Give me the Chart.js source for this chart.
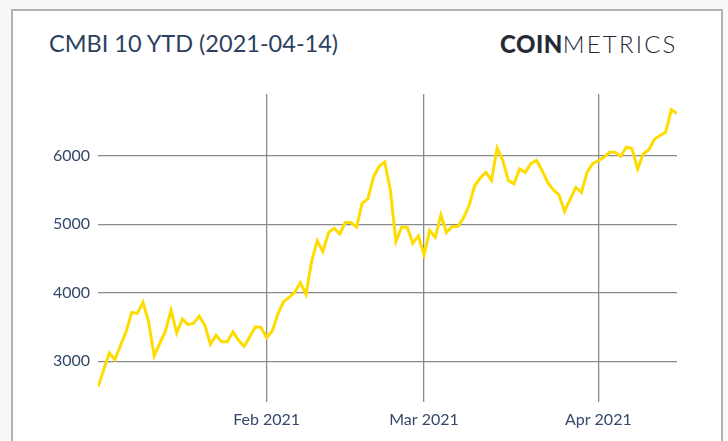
<!DOCTYPE html>
<html>
<head>
<meta charset="utf-8">
<script src="https://cdn.jsdelivr.net/npm/chart.js@4.4.1/dist/chart.umd.min.js"></script>
<style>
  html, body { margin: 0; padding: 0; background: #f8f8f8; }
  body { width: 728px; height: 441px; position: relative; overflow: hidden; font-family: Lato, sans-serif; }
  .card { position: absolute; left: 11px; top: 9px; width: 708px; height: 520px; background: #fff; border: 2px solid #b2b2b2; }
  .title { position: absolute; left: 49px; top: 29px; font-size: 23.5px; color: #2d3f5f; white-space: nowrap; }
  .logo { position: absolute; left: 500px; top: 29px; font-size: 24px; color: #262a38; white-space: nowrap; }
  .logo b { font-weight: 900; letter-spacing: 0.5px; }
  .logo span { font-weight: 300; letter-spacing: 2.2px; }
  #wrap { position: absolute; left: 0; top: 0; width: 728px; height: 441px; }
</style>
</head>
<body>
<div class="card"></div>
<div class="title">CMBI 10 YTD (2021-04-14)</div>
<div class="logo"><b>COIN</b><span>METRICS</span></div>
<div id="wrap"><canvas id="myChart"></canvas></div>
<script>
// daily index values, first point = 2021-01-02 (day 0)
const cmbiValues = [
  2624, 2870, 3121, 3025, 3230, 3429, 3713, 3698, 3859, 3575,
  3077, 3259, 3443, 3746, 3414, 3615, 3537, 3551, 3659, 3527,
  3249, 3380, 3283, 3283, 3429, 3307, 3220, 3356, 3502, 3493,
  3346, 3443, 3688, 3868, 3932, 4005, 4146, 3976, 4453, 4756,
  4600, 4878, 4942, 4859, 5024, 5024, 4957, 5308, 5366, 5688,
  5843, 5907, 5502, 4746, 4957, 4957, 4722, 4829, 4551, 4907,
  4810, 5137, 4878, 4966, 4966, 5088, 5268, 5561, 5674, 5756,
  5639, 6112, 5932, 5639, 5590, 5805, 5756, 5883, 5932, 5785,
  5610, 5502, 5429, 5185, 5366, 5537, 5463, 5756, 5883, 5927,
  5976, 6049, 6049, 5990, 6127, 6102, 5805, 6029, 6088, 6244,
  6293, 6346, 6673, 6615
];
const monthTicks = [30, 58, 89];
const monthLabels = ['Feb 2021', 'Mar 2021', 'Apr 2021'];
const yTicks = [3000, 4000, 5000, 6000];

const points = cmbiValues.map((v, i) => ({ x: i, y: v }));
const gridColor = '#8a8a8a';
const tickColor = '#34486a';

const ctx = document.getElementById('myChart');
new Chart(ctx, {
  type: 'line',
  data: {
    datasets: [{
      data: points,
      borderColor: '#ffdc00',
      borderWidth: 3,
      pointRadius: 0,
      tension: 0,
      fill: false
    }]
  },
  options: {
    responsive: true,
    maintainAspectRatio: false,
    animation: false,
    layout: { padding: { left: 18, right: 51, top: 94, bottom: 0 } },
    plugins: { legend: { display: false }, tooltip: { enabled: false } },
    scales: {
      x: {
        type: 'linear',
        min: 0,
        max: 103,
        afterBuildTicks: (scale) => { scale.ticks = monthTicks.map(v => ({ value: v })); },
        afterFit: (scale) => { scale.height = 54; },
        ticks: {
          callback: (v) => monthLabels[monthTicks.indexOf(v)],
          color: tickColor,
          font: { family: 'Lato', size: 16 },
          padding: 8,
          maxRotation: 0,
          autoSkip: false
        },
        grid: { color: gridColor, lineWidth: 1.3, tickLength: 15, drawTicks: true },
        border: { display: false }
      },
      y: {
        min: 2624,
        max: 6900,
        afterBuildTicks: (scale) => { scale.ticks = yTicks.map(v => ({ value: v })); },
        afterFit: (scale) => { scale.width = 80; },
        ticks: {
          callback: (v) => String(v),
          color: tickColor,
          font: { family: 'Lato', size: 16 },
          padding: 8
        },
        grid: { color: gridColor, lineWidth: 1.3, drawTicks: false },
        border: { display: false }
      }
    }
  }
});
</script>
</body>
</html>
